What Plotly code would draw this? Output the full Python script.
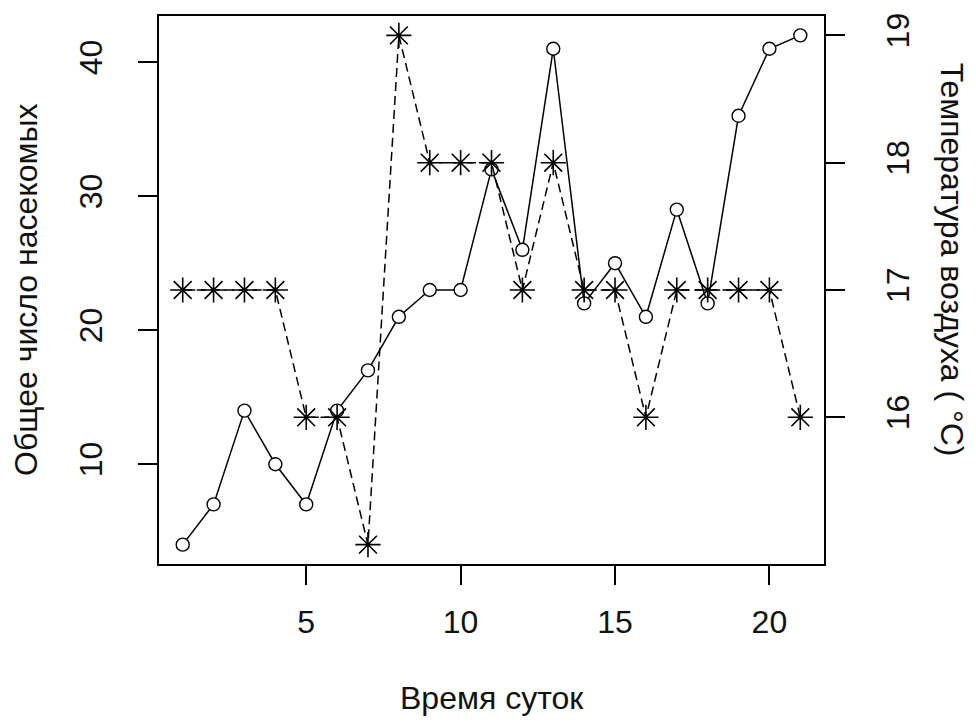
import plotly.graph_objects as go

# Days of observation
days = list(range(1, 22))
# Total number of insects per day (left axis)
insects = [4, 7, 14, 10, 7, 14, 17, 21, 23, 23, 32, 26, 41, 22, 25, 21, 29, 22, 36, 41, 42]
# Air temperature, °C (right axis)
temperature = [17, 17, 17, 17, 16, 16, 15, 19, 18, 18, 18, 17, 18, 17, 17, 16, 17, 17, 17, 17, 16]

x_ticks = [5, 10, 15, 20]
y_ticks = [10, 20, 30, 40]
t_ticks = [16, 17, 18, 19]


def padded(vals, frac=0.04):
    lo, hi = min(vals), max(vals)
    d = (hi - lo) * frac
    return [lo - d, hi + d]


FONT = "Liberation Sans, Arial, sans-serif"
FS = 32
TXT = "#111111"

fig = go.Figure()

fig.add_trace(go.Scatter(
    x=days, y=insects, mode="lines+markers", yaxis="y",
    line=dict(color="black", width=1.5),
    marker=dict(symbol="circle", size=13, color="white",
                line=dict(color="black", width=1.4)),
    showlegend=False, hoverinfo="x+y",
))

fig.add_trace(go.Scatter(
    x=days, y=temperature, mode="lines+markers", yaxis="y2",
    line=dict(color="black", width=1.5, dash="9px,5px"),
    marker=dict(symbol="asterisk-open", size=21,
                line=dict(color="black", width=1.6)),
    showlegend=False, hoverinfo="x+y",
))

axis_common = dict(
    showgrid=False, zeroline=False, showline=False,
    ticks="outside", ticklen=19, tickwidth=1.8, tickcolor="black",
    tickfont=dict(family=FONT, size=FS, color=TXT),
)

fig.update_layout(
    width=976, height=722,
    margin=dict(l=158, r=151, t=15, b=157),
    paper_bgcolor="white", plot_bgcolor="white",
    xaxis=dict(range=padded(days), tickvals=x_ticks, ticklabelstandoff=10,
               **axis_common),
    yaxis=dict(range=padded(insects), tickvals=y_ticks, tickangle=-90,
               ticklabelstandoff=23, **axis_common),
    yaxis2=dict(range=padded(temperature), tickvals=t_ticks, tickangle=-90,
                ticklabelstandoff=26, overlaying="y", side="right",
                **axis_common),
    shapes=[dict(type="rect", xref="paper", yref="paper", x0=0, y0=0, x1=1, y1=1,
                 line=dict(color="black", width=2), fillcolor="rgba(0,0,0,0)")],
    annotations=[
        dict(text="Время суток", xref="paper", yref="paper", x=0.5, y=-0.242,
             showarrow=False, xanchor="center", yanchor="middle",
             font=dict(family=FONT, size=FS, color=TXT)),
        dict(text="Общее число насекомых", xref="paper", yref="paper",
             x=-0.198, y=0.5, textangle=-90, showarrow=False,
             xanchor="center", yanchor="middle",
             font=dict(family=FONT, size=FS, color=TXT)),
        dict(text="Температура воздуха ( °C)", xref="paper", yref="paper",
             x=1.191, y=0.5545, textangle=90, showarrow=False,
             xanchor="center", yanchor="middle",
             font=dict(family=FONT, size=FS, color=TXT)),
    ],
)

fig.write_html("out.html")
